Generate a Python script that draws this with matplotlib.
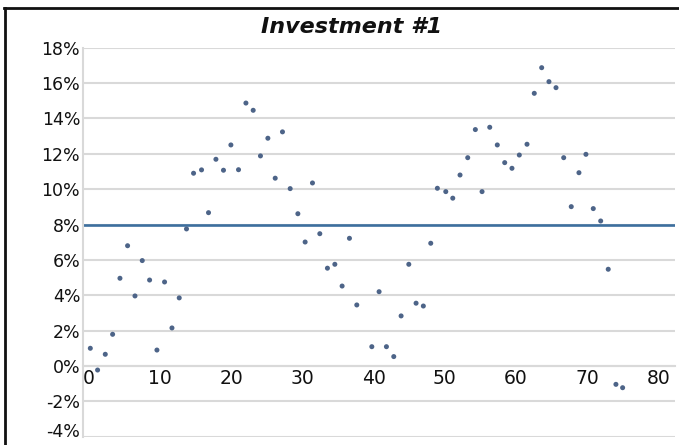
import numpy as np
import matplotlib
matplotlib.use("Agg")
import matplotlib.pyplot as plt
from matplotlib.lines import Line2D

# data (x position, return in %)
x_vals = [0.24, 1.26, 2.34, 3.37, 4.40, 5.47, 6.51, 7.53, 8.56, 9.59,
          10.66, 11.70, 12.72, 13.74, 14.73, 15.85, 16.83, 17.87, 18.93, 19.97,
          21.04, 22.08, 23.10, 24.12, 25.16, 26.19, 27.21, 28.29, 29.37, 30.39,
          31.42, 32.45, 33.52, 34.56, 35.58, 36.61, 37.64, 39.75, 40.77, 41.80,
          42.83, 43.86, 44.94, 45.96, 46.98, 48.02, 48.95, 50.13, 51.11, 52.13,
          53.21, 54.28, 55.22, 56.30, 57.36, 58.40, 59.42, 60.45, 61.53, 62.55,
          63.59, 64.61, 65.60, 66.68, 67.74, 68.82, 69.80, 70.83, 71.87, 72.93,
          74.01, 74.95]
returns = [1.00, -0.23, 0.66, 1.79, 4.96, 6.80, 3.96, 5.96, 4.86, 0.90,
           4.75, 2.15, 3.85, 7.75, 10.90, 11.09, 8.67, 11.69, 11.07, 12.50,
           11.10, 14.87, 14.46, 11.88, 12.88, 10.62, 13.24, 10.03, 8.61, 7.01,
           10.35, 7.48, 5.53, 5.75, 4.52, 7.22, 3.45, 1.09, 4.20, 1.09,
           0.53, 2.83, 5.75, 3.55, 3.39, 6.94, 10.05, 9.86, 9.49, 10.80,
           11.78, 13.37, 9.86, 13.50, 12.50, 11.50, 11.18, 11.93, 12.54, 15.42,
           16.87, 16.08, 15.74, 11.78, 9.01, 10.93, 11.97, 8.90, 8.20, 5.47,
           -1.04, -1.23]
target = 8
y_ticks = list(range(-4, 19, 2))
x_ticks = list(range(0, 81, 10))

fig = plt.figure(figsize=(6.79, 4.45), dpi=100)
ax = fig.add_axes([0.1222, 0.0187, 0.8719, 0.8741])

grid_col = "#d9d9d9"
for v in y_ticks:
    ax.axhline(v, color=grid_col, lw=1.5, zorder=1)
ax.axhline(target, color="#3d6f9e", lw=1.9, zorder=2)
ax.scatter(x_vals, returns, s=13, color="#4d6488", edgecolors="none", zorder=3)

ax.set_xlim(-0.79, 82.3)
ax.set_ylim(-4, 18)
ax.set_yticks(y_ticks)
ax.set_yticklabels([f"{v}%" for v in y_ticks])
ax.set_xticks(x_ticks)
ax.set_xticklabels([str(v) for v in x_ticks])

ax.spines["top"].set_visible(False)
ax.spines["right"].set_visible(False)
ax.spines["left"].set_color(grid_col)
ax.spines["left"].set_linewidth(1.5)
ax.spines["bottom"].set_position(("data", 0))
ax.spines["bottom"].set_color(grid_col)
ax.spines["bottom"].set_linewidth(1.5)
ax.tick_params(axis="both", length=0, colors="#111111")
ax.tick_params(axis="y", pad=2, labelsize=12.5)
ax.tick_params(axis="x", pad=2, labelsize=13.5)
# lowest label sits on its gridline, like the reference where it hits the edge
ax.get_yticklabels()[0].set_verticalalignment("baseline")

fig.text(0.518, 0.94, "Investment #1", ha="center", va="center",
         fontsize=16, fontweight="bold", fontstyle="italic", color="#111111")

# black frame on top and left edges
fig.add_artist(Line2D([0.006, 1.0], [0.982, 0.982], transform=fig.transFigure,
                      color="#111111", lw=2))
fig.add_artist(Line2D([0.007, 0.007], [0.0, 0.982], transform=fig.transFigure,
                      color="#111111", lw=2))

fig.savefig("out.png", dpi=100)
